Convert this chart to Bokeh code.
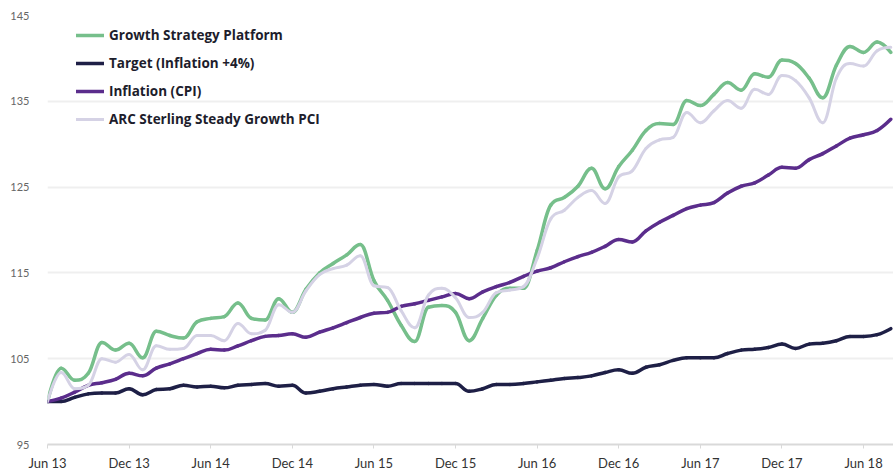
import pandas as pd
from bokeh.plotting import figure
from bokeh.models import FixedTicker, Legend, LegendItem, Range1d
from bokeh.embed import file_html
from bokeh.resources import INLINE

# ---- data (monthly, Jun 2013 .. Aug 2018) ----
months = pd.period_range("2013-06", "2018-08", freq="M")

growth = [100.0, 103.9, 102.5, 103.3, 106.9, 106.0, 106.8, 105.1, 108.2, 107.7,
          107.4, 109.3, 109.7, 109.9, 111.5, 109.7, 109.5, 112.0, 110.4, 113.1,
          115.0, 116.1, 117.1, 118.3, 114.1, 111.8, 108.9, 107.0, 111.0, 111.2,
          110.4, 107.1, 109.7, 112.4, 113.2, 113.2, 117.6, 122.9, 123.8, 125.1,
          127.2, 124.8, 127.4, 129.3, 131.6, 132.4, 132.3, 135.1, 134.5, 135.8,
          137.2, 136.3, 138.2, 137.8, 139.8, 139.4, 137.7, 135.4, 139.2, 141.4,
          140.7, 141.9, 140.7]

target = [100.0, 100.0, 100.5, 100.9, 101.0, 101.0, 101.5, 100.8, 101.4, 101.5,
          101.9, 101.7, 101.8, 101.6, 101.9, 102.0, 102.1, 101.8, 101.9, 101.0,
          101.2, 101.5, 101.7, 101.9, 102.0, 101.8, 102.1, 102.1, 102.1, 102.1,
          102.1, 101.2, 101.5, 102.0, 102.0, 102.1, 102.3, 102.5, 102.7, 102.8,
          103.0, 103.4, 103.7, 103.3, 104.0, 104.3, 104.8, 105.1, 105.1, 105.1,
          105.6, 106.0, 106.1, 106.3, 106.7, 106.2, 106.7, 106.8, 107.1, 107.6,
          107.6, 107.8, 108.5]

inflation = [100.0, 100.4, 101.1, 101.9, 102.2, 102.6, 103.3, 103.0, 103.9, 104.4,
             105.0, 105.6, 106.1, 106.0, 106.5, 107.1, 107.6, 107.7, 107.9, 107.5,
             108.1, 108.6, 109.2, 109.8, 110.3, 110.4, 111.1, 111.4, 111.8, 112.2,
             112.6, 112.0, 112.8, 113.4, 113.9, 114.6, 115.2, 115.6, 116.3, 116.9,
             117.4, 118.1, 118.9, 118.6, 119.9, 120.9, 121.7, 122.5, 122.9, 123.2,
             124.3, 125.1, 125.5, 126.4, 127.3, 127.2, 128.2, 128.9, 129.8, 130.7,
             131.1, 131.6, 132.9]

arc = [100.0, 103.4, 101.5, 101.9, 105.0, 104.6, 105.5, 103.7, 106.5, 106.1,
       106.2, 107.7, 107.7, 107.1, 109.1, 107.9, 108.3, 111.3, 110.4, 112.9,
       114.8, 115.5, 115.9, 117.0, 113.5, 113.3, 110.6, 108.6, 112.4, 113.2,
       112.1, 109.8, 110.4, 112.7, 113.0, 113.4, 116.7, 121.3, 122.3, 123.8,
       124.6, 123.1, 126.2, 126.9, 129.5, 130.5, 130.8, 133.7, 132.5, 133.9,
       135.1, 134.2, 136.4, 135.8, 138.0, 137.4, 135.4, 132.5, 137.7, 139.4,
       139.1, 140.9, 141.3]

series_names = ["Growth Strategy Platform", "Target (Inflation +4%)",
                "Inflation (CPI)", "ARC Sterling Steady Growth PCI"]
y_ticks = [95, 105, 115, 125, 135, 145]

x = list(range(len(months)))
tick_pos = [i for i, m in enumerate(months) if m.month in (6, 12)]
tick_lab = {i: months[i].strftime("%b %y") for i in tick_pos}


def spline_segments(xs, ys, smoothing=1.5):
    """Cubic bezier segments through the data points (spline-style smoothing)."""
    n = len(xs)
    d = smoothing + 1
    lc = [(xs[i], ys[i]) for i in range(n)]
    rc = [(xs[i], ys[i]) for i in range(n)]
    for i in range(1, n - 1):
        px, py = xs[i], ys[i]
        lx, ly = xs[i - 1], ys[i - 1]
        nx, ny = xs[i + 1], ys[i + 1]
        lcx = (smoothing * px + lx) / d
        lcy = (smoothing * py + ly) / d
        rcx = (smoothing * px + nx) / d
        rcy = (smoothing * py + ny) / d
        if rcx != lcx:
            corr = (rcy - lcy) * (rcx - px) / (rcx - lcx) + py - rcy
            lcy += corr
            rcy += corr
            if lcy > ly and lcy > py:
                lcy = max(ly, py)
                rcy = 2 * py - lcy
            elif lcy < ly and lcy < py:
                lcy = min(ly, py)
                rcy = 2 * py - lcy
            if rcy > ny and rcy > py:
                rcy = max(ny, py)
                lcy = 2 * py - rcy
            elif rcy < ny and rcy < py:
                rcy = min(ny, py)
                lcy = 2 * py - rcy
        lc[i] = (lcx, lcy)
        rc[i] = (rcx, rcy)
    seg = dict(x0=[], y0=[], x1=[], y1=[], cx0=[], cy0=[], cx1=[], cy1=[])
    for i in range(1, n):
        seg["x0"].append(xs[i - 1]); seg["y0"].append(ys[i - 1])
        seg["x1"].append(xs[i]); seg["y1"].append(ys[i])
        seg["cx0"].append(rc[i - 1][0]); seg["cy0"].append(rc[i - 1][1])
        seg["cx1"].append(lc[i][0]); seg["cy1"].append(lc[i][1])
    return seg


p = figure(width=893, height=473, output_backend="svg", toolbar_location=None,
           x_range=Range1d(0, 62.2), y_range=Range1d(95, 145),
           min_border_left=47, min_border_right=0, min_border_top=15,
           min_border_bottom=29)
p.outline_line_color = None
p.background_fill_color = "white"
p.border_fill_color = "white"

# y axis
p.yaxis.ticker = FixedTicker(ticks=y_ticks)
p.yaxis.axis_line_color = None
p.yaxis.major_tick_line_color = None
p.yaxis.minor_tick_line_color = None
p.yaxis.major_label_text_font = "Lato"
p.yaxis.major_label_text_font_size = "11px"
p.yaxis.major_label_text_color = "#666666"
p.yaxis.major_label_standoff = 12

# x axis
p.xaxis.ticker = FixedTicker(ticks=tick_pos)
p.xaxis.major_label_overrides = tick_lab
p.xaxis.axis_line_color = "#d9d9d9"
p.xaxis.axis_line_width = 2
p.xaxis.major_tick_line_color = "#d9d9d9"
p.xaxis.major_tick_out = 4
p.xaxis.major_tick_in = 0
p.xaxis.minor_tick_line_color = None
p.xaxis.major_label_text_font = "Lato"
p.xaxis.major_label_text_font_size = "13px"
p.xaxis.major_label_text_color = "#333333"
p.xaxis.major_label_standoff = 6

p.xgrid.visible = False
p.ygrid.ticker = FixedTicker(ticks=y_ticks)
p.ygrid.grid_line_color = "#efefef"
p.ygrid.grid_line_width = 2

colors = ["#76bf8b", "#1e1f46", "#5b2d8c", "#d5d2e5"]
widths = [3.5, 3.5, 3.5, 3]
renderers = []
for vals, c, w in zip([growth, target, inflation, arc], colors, widths):
    seg = spline_segments(x, vals)
    r = p.bezier(source=seg, x0="x0", y0="y0", x1="x1", y1="y1",
                 cx0="cx0", cy0="cy0", cx1="cx1", cy1="cy1",
                 line_color=c, line_width=w, line_cap="round")
    renderers.append(r)

legend = Legend(items=[LegendItem(label=n, renderers=[r], index=0)
                       for n, r in zip(series_names, renderers)],
                location=(29, 315), orientation="vertical",
                border_line_color=None, background_fill_alpha=0,
                glyph_width=28, glyph_height=20, label_height=20, spacing=8,
                padding=0, margin=0, label_standoff=5,
                label_text_font="Open Sans", label_text_font_size="13.5px",
                label_text_font_style="bold", label_text_color="#1d1d2c")
p.add_layout(legend, "center")

open("out.html", "w").write(file_html(p, INLINE))
